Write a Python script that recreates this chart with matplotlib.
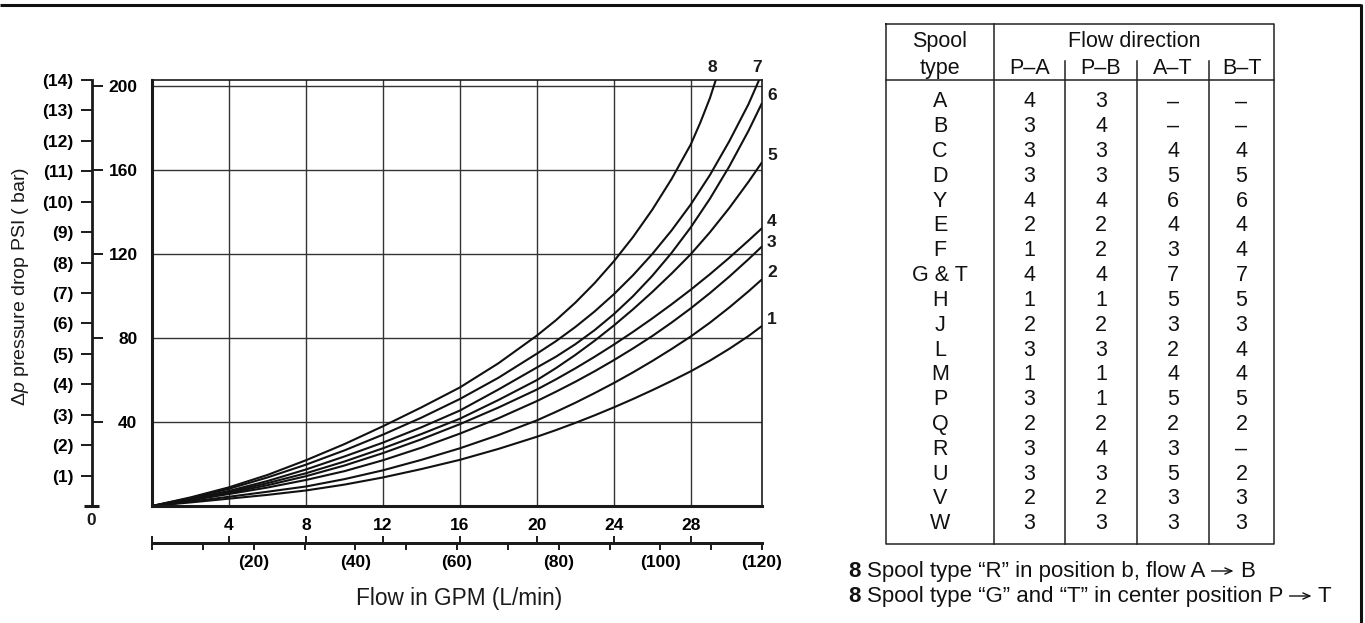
import matplotlib
matplotlib.use('Agg')
import matplotlib.pyplot as plt

plt.rcParams['font.family'] = ['Liberation Sans', 'DejaVu Sans']
plt.rcParams['mathtext.fontset'] = 'custom'
plt.rcParams['mathtext.rm'] = 'Liberation Sans'
plt.rcParams['mathtext.it'] = 'Liberation Sans:italic'

W, H, DPI = 1365, 623, 100
PX = 72.0 / DPI  # points per pixel

# ---------------- data (flow in GPM, pressure drop in PSI) ----------------
flow_1to6 = [0, 2, 4, 6, 8, 10, 12, 14, 16, 18, 20, 21, 22, 23, 24, 25, 26, 27, 28, 29, 30, 31, 31.7]
flow_7 = [0, 2, 4, 6, 8, 10, 12, 14, 16, 18, 20, 21, 22, 23, 24, 25, 26, 27, 28, 29, 30, 31, 31.55]
flow_8 = [0, 2, 4, 6, 8, 10, 12, 14, 16, 18, 20, 21, 22, 23, 24, 25, 26, 27, 28, 28.5, 29, 29.3]

curve_1 = [0, 1.7, 3.5, 5.3, 7.4, 10.2, 13.6, 17.6, 22, 27.2, 33,
           36.2, 39.6, 43.2, 47, 51, 55.2, 59.6, 64.2, 69.3, 74.9, 81, 85.8]
curve_2 = [0, 2.1, 4.4, 6.8, 9.3, 12.8, 17, 22, 27.5, 33.8, 40.8,
           44.9, 49.2, 53.8, 58.6, 63.7, 69.1, 74.8, 80.8, 87.4, 94.6, 102.3, 108]
curve_3 = [0, 2.7, 5.7, 8.8, 12.4, 16.6, 21.8, 27.8, 34.5, 41.8, 50,
           54.5, 59.2, 64.2, 69.5, 75.1, 81, 87.4, 94.2, 101.5, 109.3, 117.6, 123.7]
curve_4 = [0, 2.9, 6.2, 9.9, 14.2, 19.3, 25.2, 31.8, 39, 46.9, 55.5,
           60.4, 65.6, 71.1, 76.9, 83, 89.4, 96.1, 103.1, 110.5, 118.3, 126.5, 132.4]
curve_5 = [0, 3.1, 6.7, 10.9, 15.6, 21.2, 27.5, 34.3, 41.6, 50.5, 60,
           65.75, 72, 78.75, 86, 93.75, 102, 110.75, 120, 130.5, 142, 154.5, 163.8]
curve_6 = [0, 3.4, 7.2, 11.9, 17.4, 23.6, 30.2, 37.5, 45.5, 55.5, 66,
           71.2, 77.1, 83.8, 91.4, 100, 109.7, 120.6, 132.8, 146.5, 161.8, 178.8, 192]
curve_7 = [0, 3.8, 8.2, 13.6, 19.7, 26.5, 34, 42.1, 51, 61.1, 72.6,
           78.6, 85.3, 92.7, 100.9, 110, 120.1, 131.3, 143.7, 157.8, 173.8, 191.5, 203]
curve_8 = [0, 4.1, 8.9, 14.8, 21.8, 29.5, 38, 47, 56.5, 68, 81.2,
           88.6, 96.9, 106.2, 116.6, 128.2, 141.2, 155.8, 172.3, 182.8, 194.5, 203]

curve_names = ['1', '2', '3', '4', '5', '6', '7', '8']

gpm_ticks = [4, 8, 12, 16, 20, 24, 28]
lmin_ticks = [10, 20, 30, 40, 50, 60, 70, 80, 90, 100, 110, 120]
lmin_labels = ['', '(20)', '', '(40)', '', '(60)', '', '(80)', '', '(100)', '', '(120)']
psi_ticks = [40, 80, 120, 160, 200]
bar_ticks = list(range(1, 15))

spool_types = ['A', 'B', 'C', 'D', 'Y', 'E', 'F', 'G & T', 'H', 'J', 'L', 'M', 'P', 'Q', 'R', 'U', 'V', 'W']
col_pa = ['4', '3', '3', '3', '4', '2', '1', '4', '1', '2', '3', '1', '3', '2', '3', '3', '2', '3']
col_pb = ['3', '4', '3', '3', '4', '2', '2', '4', '1', '2', '3', '1', '1', '2', '4', '3', '2', '3']
col_at = ['–', '–', '4', '5', '6', '4', '3', '7', '5', '3', '2', '4', '5', '2', '3', '5', '3', '3']
col_bt = ['–', '–', '4', '5', '6', '4', '4', '7', '5', '3', '4', '4', '5', '2', '–', '2', '3', '3']
col_headers = ['P–A', 'P–B', 'A–T', 'B–T']

note_marker = '8'
note_lines = [('Spool type “R” in position b, flow A', 'B'),
              ('Spool type “G” and “T” in center position P', 'T')]

LMIN_PER_GPM = 3.785
PSI_PER_BAR = 14.5038
X_MAX = 120 / LMIN_PER_GPM
Y_MAX = 14 * PSI_PER_BAR

INK = '#1a1a1a'
BOLD_FS = 12.5

# ---------------- figure ----------------
fig = plt.figure(figsize=(W / DPI, H / DPI), dpi=DPI)
fig.patch.set_facecolor('white')


def fx(px):
    return px / W


def fy(py):
    return (H - py) / H


# overlay axes in pixel coordinates (frame, table, notes)
axo = fig.add_axes([0, 0, 1, 1])
axo.set_xlim(0, W)
axo.set_ylim(H, 0)
axo.axis('off')

# main plot
L, R, T, B = 152, 762, 80, 506
ax = fig.add_axes([fx(L), fy(B), (R - L) / W, (B - T) / H])
ax.set_xlim(0, X_MAX)
ax.set_ylim(0, Y_MAX)
ax.set_xticks(gpm_ticks)
ax.set_yticks(psi_ticks)
ax.tick_params(length=0, labelbottom=False, labelleft=False)
ax.grid(True, color='#333333', lw=1.0)
for s in ['left', 'bottom']:
    ax.spines[s].set_linewidth(2.2)
for s in ['top', 'right']:
    ax.spines[s].set_linewidth(1.2)
for s in ax.spines.values():
    s.set_color(INK)

curves = [(flow_1to6, curve_1), (flow_1to6, curve_2), (flow_1to6, curve_3),
          (flow_1to6, curve_4), (flow_1to6, curve_5), (flow_1to6, curve_6),
          (flow_7, curve_7), (flow_8, curve_8)]
label_off = {'1': (10, 6), '2': (10, 7), '3': (10, 4), '4': (10, 7),
             '5': (10, 7), '6': (10, 8), '7': (-2, 13), '8': (-3, 13)}
for name, (xs, ys) in zip(curve_names, curves):
    ax.plot(xs, ys, color='#111111', lw=1.5, solid_capstyle='round',
            solid_joinstyle='round', clip_on=True)
    dx, dy = label_off[name]
    ax.annotate(name, (xs[-1], ys[-1]), xytext=(dx * PX, dy * PX),
                textcoords='offset points', ha='center', va='center',
                fontsize=BOLD_FS, fontweight='bold', color=INK, annotation_clip=False)

# left double scale: bar (left ticks) and psi (right ticks)
axb = fig.add_axes([fx(91.5), fy(B), 0.5 / W, (B - T) / H])
axb.set_ylim(0, 14)
axb.set_xticks([])
for s in ['top', 'bottom', 'right']:
    axb.spines[s].set_visible(False)
axb.spines['left'].set_linewidth(2.0)
axb.spines['left'].set_color(INK)
axb.set_yticks(bar_ticks)
axb.set_yticklabels(['(%d)' % b for b in bar_ticks])
axb.tick_params(axis='y', direction='out', length=11 * PX, width=1.4, pad=7 * PX,
                labelsize=BOLD_FS, color=INK)
for lbl in axb.get_yticklabels():
    lbl.set_fontweight('bold')
axb.patch.set_visible(False)

axp = axb.twinx()
axp.set_ylim(0, Y_MAX)
for s in axp.spines.values():
    s.set_visible(False)
axp.set_yticks(psi_ticks)
axp.set_yticklabels([str(p) for p in psi_ticks])
axp.tick_params(axis='y', direction='out', length=10.5 * PX, width=1.4, pad=35 * PX,
                labelsize=BOLD_FS, color=INK)
for lbl in axp.get_yticklabels():
    lbl.set_fontweight('bold')
    lbl.set_ha('right')

axo.plot([84, 99], [506, 506], color=INK, lw=2.2, solid_capstyle='butt')
axo.text(91, 520.5, '0', ha='center', va='center', fontsize=BOLD_FS, fontweight='bold', color=INK)

# bottom double scale: GPM (upper ticks) and L/min (lower ticks)
AY = 543
axg = fig.add_axes([fx(L), fy(AY), (R - L) / W, 1e-5])
axg.set_xlim(0, X_MAX)
axg.set_yticks([])
for s in ['left', 'right', 'bottom']:
    axg.spines[s].set_visible(False)
axg.spines['top'].set_linewidth(2.0)
axg.spines['top'].set_color(INK)
axg.xaxis.tick_top()
axg.set_xticks([0] + gpm_ticks)
axg.set_xticklabels([''] + [str(g) for g in gpm_ticks])
axg.tick_params(axis='x', direction='out', length=7 * PX, width=1.4, pad=2.5 * PX,
                labelsize=BOLD_FS, color=INK)
for lbl in axg.get_xticklabels():
    lbl.set_fontweight('bold')
axg.patch.set_visible(False)

axl = fig.add_axes([fx(L), fy(AY), (R - L) / W, 1e-5])
axl.set_xlim(0, 120)
axl.set_yticks([])
for s in ['left', 'right', 'top']:
    axl.spines[s].set_visible(False)
axl.spines['bottom'].set_linewidth(2.0)
axl.spines['bottom'].set_color(INK)
axl.set_xticks([0] + lmin_ticks)
axl.set_xticklabels([''] + lmin_labels)
axl.tick_params(axis='x', direction='out', length=7 * PX, width=1.4, pad=5.5 * PX,
                labelsize=BOLD_FS, color=INK)
for lbl in axl.get_xticklabels():
    lbl.set_fontweight('bold')
axl.patch.set_visible(False)

# axis titles
axo.text(459.5, 605, 'Flow in GPM (L/min)', ha='center', va='baseline', fontsize=16.3, color=INK)
axo.text(21, 286, r'$\Delta\mathit{p}$ pressure drop PSI ( bar)', rotation=90,
         ha='center', va='center', fontsize=14, color=INK)

# outer frame
axo.plot([0, 1361], [5, 5], color='#111111', lw=2.2, solid_capstyle='butt')
axo.plot([1360.5, 1360.5], [4, H], color='#111111', lw=2.2, solid_capstyle='butt')

# ---------------- table ----------------
tl, tr, tt, tb = 886, 1274, 23.5, 544
col_x = [994, 1065, 1137, 1209]
col_c = [940, 1029.5, 1101, 1173, 1241.5]
lc = '#222222'
axo.plot([tl, tr, tr, tl, tl], [tt, tt, tb, tb, tt], color=lc, lw=1.1)
axo.plot([tl, tr], [80, 80], color=lc, lw=1.1)
axo.plot([col_x[0], col_x[0]], [tt, tb], color=lc, lw=1.1)
for cx in col_x[1:]:
    axo.plot([cx, cx], [61, tb], color=lc, lw=1.1)

TFS = 15.5
TXT = '#111111'
axo.text(col_c[0], 47.3, 'Spool', ha='center', va='baseline', fontsize=TFS, color=TXT)
axo.text(col_c[0], 74, 'type', ha='center', va='baseline', fontsize=TFS, color=TXT)
axo.text((col_x[0] + tr) / 2, 47.3, 'Flow direction', ha='center', va='baseline', fontsize=TFS, color=TXT)
for c, h in zip(col_c[1:], col_headers):
    axo.text(c, 74, h, ha='center', va='baseline', fontsize=TFS, color=TXT)

columns = [spool_types, col_pa, col_pb, col_at, col_bt]
for i in range(len(spool_types)):
    yb = 107.3 + 24.82 * i
    for c, col in zip(col_c, columns):
        axo.text(c, yb, col[i], ha='center', va='baseline', fontsize=TFS, color=TXT)

# footnotes (long thin arrow drawn as an annotation arrow)
NFS = 16
rend = fig.canvas.get_renderer()
space_w = 0.278 * NFS / PX
arrow_w = 22
for k, (before, after) in enumerate(note_lines):
    yb = 577 + 25 * k
    axo.text(848, yb, note_marker, ha='left', va='baseline', fontsize=NFS,
             fontweight='bold', color=TXT)
    x0 = 867
    t1 = axo.text(x0, yb, before, ha='left', va='baseline', fontsize=NFS, color=TXT)
    x1 = x0 + t1.get_window_extent(renderer=rend).width + space_w
    ya = yb - 6
    axo.annotate('', xy=(x1 + arrow_w, ya), xytext=(x1, ya),
                 arrowprops=dict(arrowstyle='->,head_length=0.5,head_width=0.22',
                                 lw=1.0, color=TXT, shrinkA=0, shrinkB=0))
    x2 = x1 + arrow_w + space_w
    axo.text(x2, yb, after, ha='left', va='baseline', fontsize=NFS, color=TXT)

fig.savefig('out.png', dpi=DPI, facecolor='white')
